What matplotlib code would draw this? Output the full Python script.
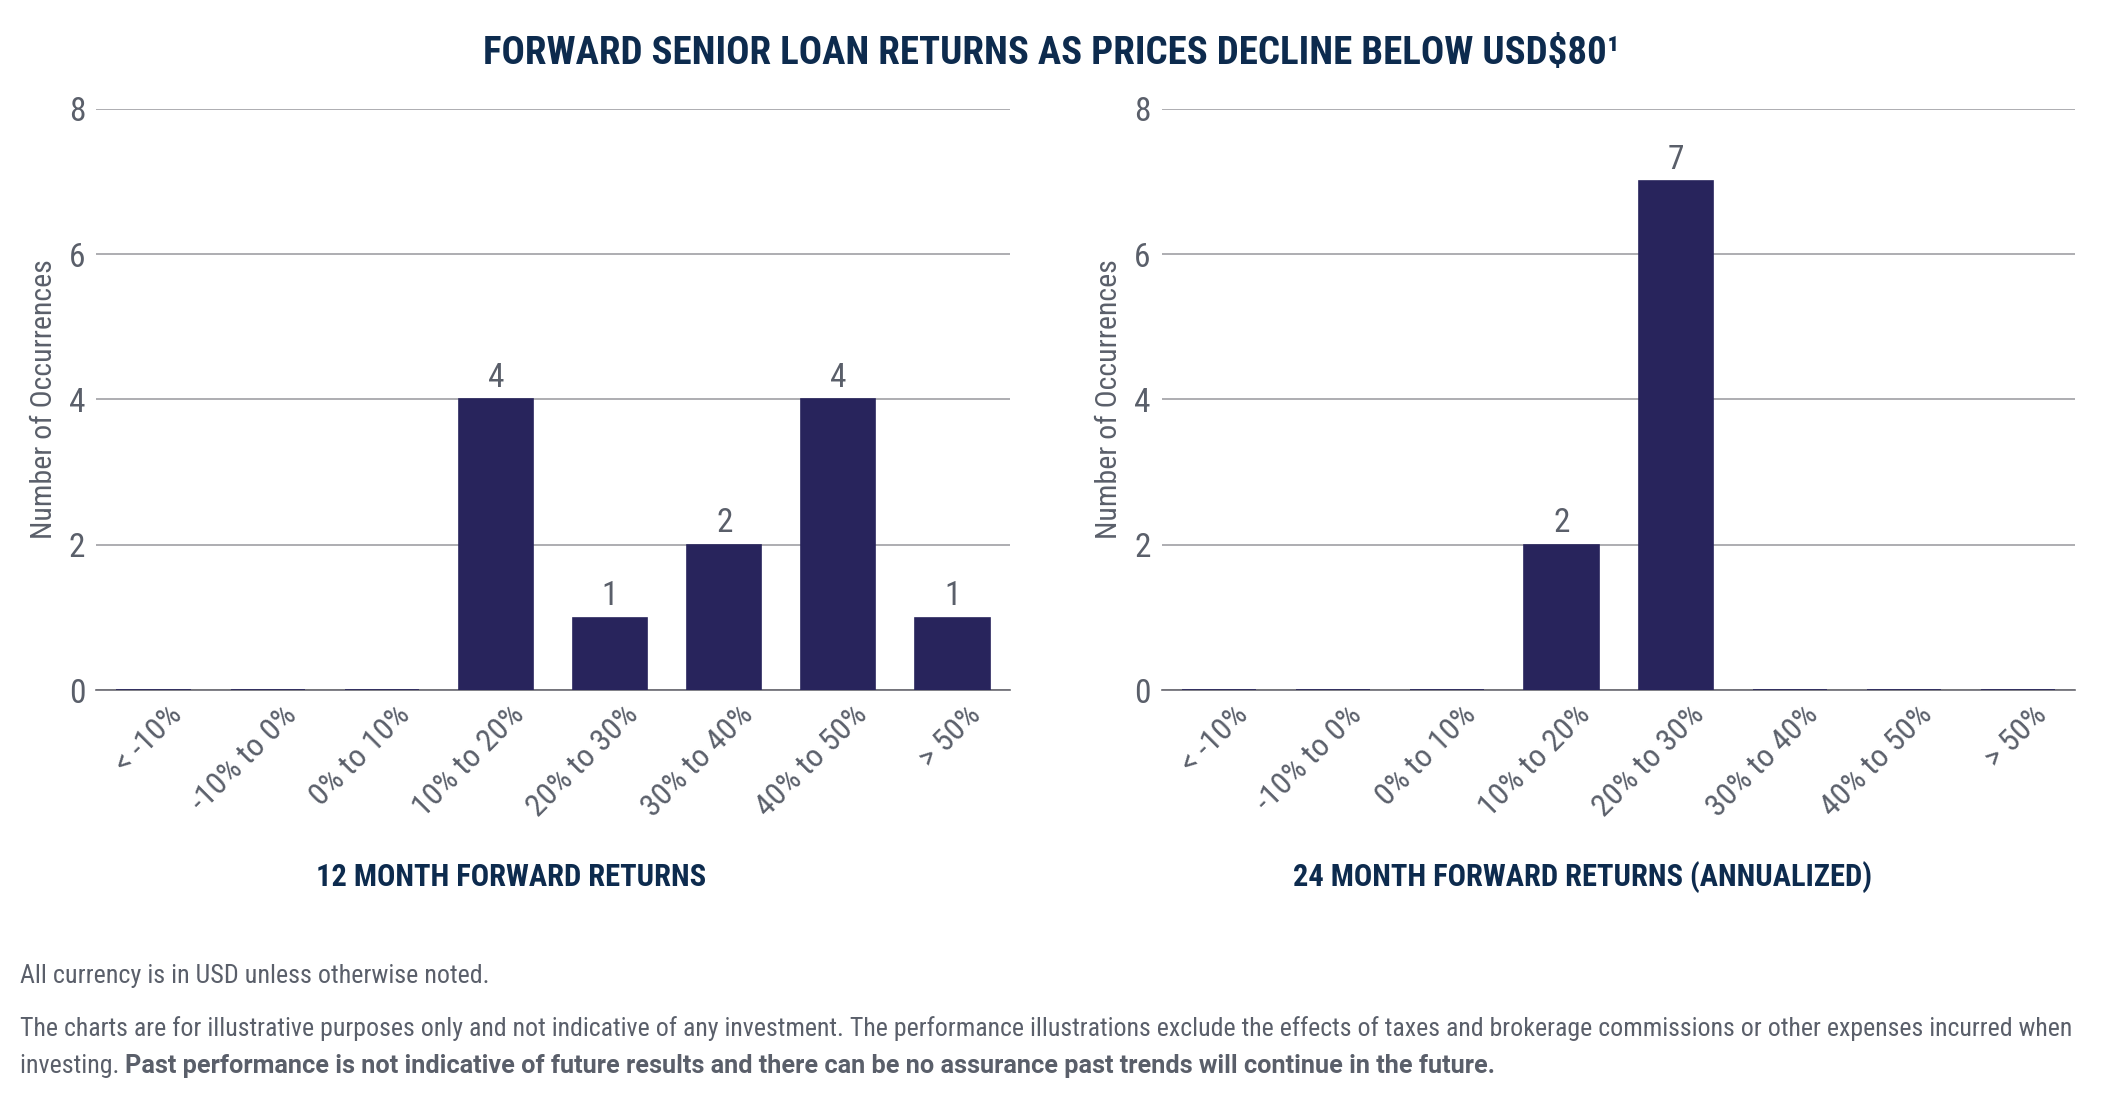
#
# Forward senior loan returns - two histograms
#

import matplotlib.pyplot as plt
import numpy as np
from matplotlib.transforms import ScaledTranslation

# 1. Input
categories = ["< -10%", "-10% to 0%", "0% to 10%", "10% to 20%",
              "20% to 30%", "30% to 40%", "40% to 50%", "> 50%"]
counts_12m = [0, 0, 0, 4, 1, 2, 4, 1]
counts_24m = [0, 0, 0, 2, 7, 0, 0, 0]
yticks = [0, 2, 4, 6, 8]

title = "FORWARD SENIOR LOAN RETURNS AS PRICES DECLINE BELOW USD$80¹"
sub_12m = "12 MONTH FORWARD RETURNS"
sub_24m = "24 MONTH FORWARD RETURNS (ANNUALIZED)"
note1 = "All currency is in USD unless otherwise noted."
note2 = ("The charts are for illustrative purposes only and not indicative of any investment. "
         "The performance illustrations exclude the effects of taxes and brokerage commissions "
         "or other expenses incurred when")
note3a = "investing. "
note3b = ("Past performance is not indicative of future results and there can be "
          "no assurance past trends will continue in the future.")

# 2. Process
bar_color = "#28245c"
navy = "#0d2b4e"
grey_text = "#5a5f6a"
grid_color = "#a0a0a4"
plt.rcParams['font.family'] = ['Roboto Condensed', 'DejaVu Sans']

fig = plt.figure(figsize=(21.02, 11.08), dpi=100)
ax1 = fig.add_axes([0.0459, 0.3769, 0.4344, 0.5251])
ax2 = fig.add_axes([0.5528, 0.3769, 0.4344, 0.5251])

x = np.arange(len(categories))
offset = ScaledTranslation(0.24, -0.20, fig.dpi_scale_trans)
for ax, vals in [(ax1, counts_12m), (ax2, counts_24m)]:
    bars = ax.bar(x, vals, width=0.65, color=bar_color, edgecolor=bar_color,
                  linewidth=1.2, zorder=3)
    ax.bar_label(bars, labels=[str(v) if v else "" for v in vals],
                 padding=4, fontsize=24, color=grey_text)
    ax.set_xlim(-0.5, len(categories) - 0.5)
    ax.set_ylim(0, 8)
    ax.set_yticks(yticks)
    ax.yaxis.grid(True, color=grid_color, linewidth=1.2, zorder=0)
    ax.set_axisbelow(True)
    for s in ["top", "right", "left"]:
        ax.spines[s].set_visible(False)
    ax.spines["bottom"].set_color("#6a6a72")
    ax.spines["bottom"].set_linewidth(1.2)
    ax.tick_params(length=0, labelsize=24, labelcolor=grey_text, pad=8)
    ax.set_xticks(x)
    ax.set_xticklabels(categories, rotation=45, ha="right", va="center",
                       rotation_mode="anchor", fontsize=23)
    ax.tick_params(axis="x", pad=0)
    for lab in ax.get_xticklabels():
        lab.set_transform(lab.get_transform() + offset)
    ax.set_ylabel("Number of Occurrences", fontsize=21.5, color=grey_text, labelpad=8)

# 3. Output
fig.text(0.5, 0.952, title, ha="center", va="center", fontsize=28,
         fontweight="bold", color=navy)
fig.text(0.243, 0.2085, sub_12m, ha="center", va="center", fontsize=22,
         fontweight="bold", color=navy)
fig.text(0.753, 0.2085, sub_24m, ha="center", va="center", fontsize=22,
         fontweight="bold", color=navy)

fig.text(0.0095, 0.119, note1, ha="left", va="center", fontsize=18.7, color=grey_text)
fig.text(0.0095, 0.072, note2, ha="left", va="center", fontsize=18.6, color=grey_text)
t3 = fig.text(0.0095, 0.038, note3a, ha="left", va="center", fontsize=18.7, color=grey_text)
fig.canvas.draw()
bb = t3.get_window_extent()
x_next = bb.x1 / fig.bbox.width
fig.text(x_next, 0.038, note3b, ha="left", va="center", fontsize=18.2,
         fontweight="bold", color=grey_text, family=['Roboto', 'DejaVu Sans'])

fig.savefig("out.png", dpi=100)
